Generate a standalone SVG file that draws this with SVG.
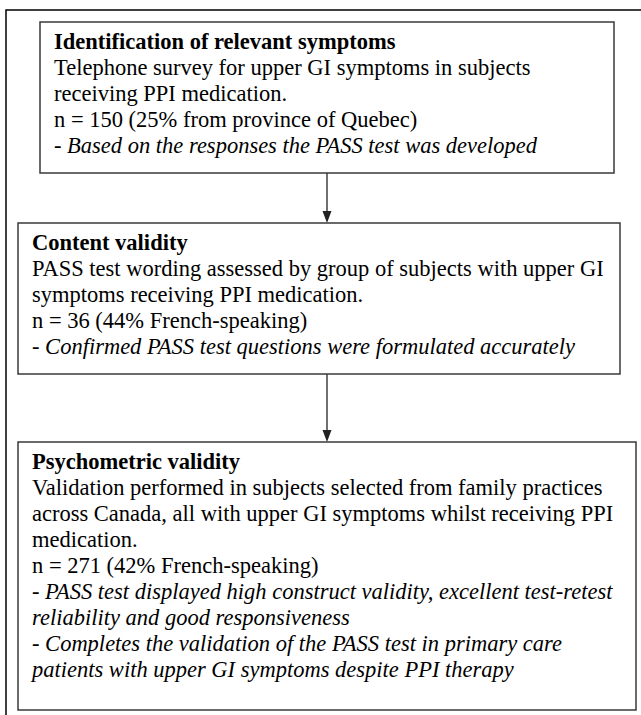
<svg xmlns="http://www.w3.org/2000/svg" width="641" height="715" viewBox="0 0 641 715">
<defs>
<style>
.box{fill:#fff;stroke:#3a3a3a;stroke-width:1.5}
.frame{fill:none;stroke:#000;stroke-width:1.5}
text{font-family:"Liberation Serif","Times New Roman",serif;font-size:22.5px;fill:#000}
.b{font-weight:bold}
.i{font-style:italic}
.conn{stroke:#222;stroke-width:1.3;fill:none}
.head{fill:#222}
</style>
</defs>
<rect width="641" height="715" fill="#fff"/>
<path class="frame" d="M6,715 L6,10 L641,10"/>
<g id="connectors">
<line class="conn" x1="327" y1="173" x2="327" y2="212"/>
<path class="head" d="M322.5,211 L331.5,211 L327,223 Z"/>
<line class="conn" x1="327" y1="374" x2="327" y2="431"/>
<path class="head" d="M322.5,430 L331.5,430 L327,442 Z"/>
</g>
<g id="node1">
<rect class="box" x="40" y="22" width="574" height="151"/>
<text x="54" y="49" class="b">Identification of relevant symptoms</text>
<text x="54" y="75">Telephone survey for upper GI symptoms in subjects</text>
<text x="54" y="101">receiving PPI medication.</text>
<text x="54" y="127">n = 150 (25% from province of Quebec)</text>
<text x="54" y="153" class="i">- Based on the responses the PASS test was developed</text>
</g>
<g id="node2">
<rect class="box" x="18" y="223" width="602" height="151"/>
<text x="32" y="250" class="b">Content validity</text>
<text x="32" y="276">PASS test wording assessed by group of subjects with upper GI</text>
<text x="32" y="302">symptoms receiving PPI medication.</text>
<text x="32" y="328">n = 36 (44% French-speaking)</text>
<text x="32" y="354" class="i">- Confirmed PASS test questions were formulated accurately</text>
</g>
<g id="node3">
<rect class="box" x="18" y="442" width="618" height="268"/>
<text x="32" y="469" class="b">Psychometric validity</text>
<text x="32" y="495">Validation performed in subjects selected from family practices</text>
<text x="32" y="521">across Canada, all with upper GI symptoms whilst receiving PPI</text>
<text x="32" y="547">medication.</text>
<text x="32" y="573">n = 271 (42% French-speaking)</text>
<text x="32" y="599" class="i">- PASS test displayed high construct validity, excellent test-retest</text>
<text x="32" y="625" class="i">reliability and good responsiveness</text>
<text x="32" y="651" class="i">- Completes the validation of the PASS test in primary care</text>
<text x="32" y="677" class="i">patients with upper GI symptoms despite PPI therapy</text>
</g>
</svg>
